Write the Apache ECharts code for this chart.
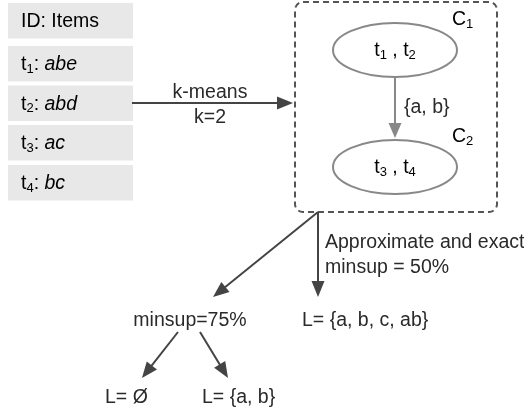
<!DOCTYPE html>
<html>
<head>
<meta charset="utf-8">
<script src="https://cdn.jsdelivr.net/npm/echarts@6/dist/echarts.min.js"></script>
<style>
html, body { margin: 0; padding: 0; background: #fff; }
#main { width: 524px; height: 413px; }
</style>
</head>
<body>
<div id="main"></div>
<script>
// transaction table
const rowIds = ['', '1', '2', '3', '4'];
const rowItems = ['Items', 'abe', 'abd', 'ac', 'bc'];
const rowTop = [3, 46, 85.5, 125, 165];

// clusters
const clusterIds = ['1', '2'];
const clusterMembers = [['1', '2'], ['3', '4']];
const clusterCenters = [[395, 50], [395, 167]];

// arrows (from -> to)
const arrowFrom = [[132, 103], [318, 212], [318, 212], [178, 332], [200, 332]];
const arrowTo = [[293, 103], [213, 297], [318, 297], [142, 378], [228, 378]];
const innerFrom = [[395, 77]];
const innerTo = [[395, 138]];

// free text
const labelText = ['k-means', 'k=2', '{a, b}', 'Approximate and exact', 'minsup = 50%',
    'minsup=75%', 'L= {a, b, c, ab}', 'L= Ø', 'L= {a, b}'];
const labelPos = [[210, 93], [210, 118], [404, 108], [325, 243], [325, 268],
    [190, 321], [302, 321], [105, 398], [202, 398]];
const labelAlign = ['center', 'center', 'left', 'left', 'left', 'center', 'left', 'left', 'left'];

const FONT = 'Liberation Sans';
const FS = 19.5;
const TXT = '#2a2a2a';
const rich = {
    n: { fontFamily: FONT, fontSize: FS, color: TXT, lineHeight: 22 },
    i: { fontFamily: FONT, fontSize: FS, color: TXT, lineHeight: 22, fontStyle: 'italic' },
    s: { fontFamily: FONT, fontSize: 13, color: TXT, lineHeight: 8, verticalAlign: 'bottom' }
};

function arrowItem(api, color, hl, hw) {
    const a = api.coord([api.value(0), api.value(1)]);
    const b = api.coord([api.value(2), api.value(3)]);
    const dx = b[0] - a[0], dy = b[1] - a[1];
    const len = Math.hypot(dx, dy), ux = dx / len, uy = dy / len;
    const base = [b[0] - ux * hl, b[1] - uy * hl];
    return {
        type: 'group',
        children: [
            { type: 'line', shape: { x1: a[0], y1: a[1], x2: base[0] + ux, y2: base[1] + uy },
              style: { stroke: color, lineWidth: 2 } },
            { type: 'polygon', shape: { points: [b, [base[0] - uy * hw, base[1] + ux * hw], [base[0] + uy * hw, base[1] - ux * hw]] },
              style: { fill: color } }
        ]
    };
}

const chart = echarts.init(document.getElementById('main'));
chart.setOption({
    animation: false,
    grid: { left: 0, right: 0, top: 0, bottom: 0 },
    xAxis: { type: 'value', min: 0, max: 524, show: false },
    yAxis: { type: 'value', min: 0, max: 413, inverse: true, show: false },
    series: [
        {
            // table rows
            type: 'custom',
            data: rowTop.map(y => [8, y]),
            renderItem(params, api) {
                const i = params.dataIndex;
                const p0 = api.coord([api.value(0), api.value(1)]);
                const p1 = api.coord([133, api.value(1) + 35.5]);
                const text = i === 0 ? '{n|ID: ' + rowItems[i] + '}'
                    : '{n|t}{s|' + rowIds[i] + '}{n|: }{i|' + rowItems[i] + '}';
                return {
                    type: 'group',
                    children: [
                        { type: 'rect', shape: { x: p0[0], y: p0[1], width: p1[0] - p0[0], height: p1[1] - p0[1] },
                          style: { fill: '#e8e8e8' } },
                        { type: 'text', x: p0[0] + 13, y: (p0[1] + p1[1]) / 2 + 1,
                          style: { text: text, rich: rich, verticalAlign: 'middle', align: 'left' } }
                    ]
                };
            }
        },
        {
            // dashed cluster frame
            type: 'custom',
            data: [[295, 2, 497, 212]],
            renderItem(params, api) {
                const p0 = api.coord([api.value(0), api.value(1)]);
                const p1 = api.coord([api.value(2), api.value(3)]);
                return {
                    type: 'rect',
                    shape: { x: p0[0], y: p0[1], width: p1[0] - p0[0], height: p1[1] - p0[1], r: 8 },
                    style: { fill: 'none', stroke: '#555', lineWidth: 2, lineDash: [6, 4] }
                };
            }
        },
        {
            // clusters
            type: 'custom',
            data: clusterCenters,
            renderItem(params, api) {
                const i = params.dataIndex;
                const c = api.coord([api.value(0), api.value(1)]);
                const m = clusterMembers[i];
                return {
                    type: 'group',
                    children: [
                        { type: 'ellipse', shape: { cx: c[0], cy: c[1], rx: 62, ry: 27 },
                          style: { fill: '#fff', stroke: '#888', lineWidth: 2 } },
                        { type: 'text', x: c[0], y: c[1] + 1,
                          style: { text: '{n|t}{s|' + m[0] + '}{n| , t}{s|' + m[1] + '}', rich: rich,
                                   align: 'center', verticalAlign: 'middle' } },
                        { type: 'text', x: c[0] + 57, y: c[1] - 30,
                          style: { text: '{n|C}{s|' + clusterIds[i] + '}', rich: rich,
                                   align: 'left', verticalAlign: 'middle' } }
                    ]
                };
            }
        },
        {
            type: 'custom',
            data: innerFrom.map((p, i) => [p[0], p[1], innerTo[i][0], innerTo[i][1]]),
            renderItem(params, api) { return arrowItem(api, '#888', 15, 6.5); }
        },
        {
            type: 'custom',
            data: arrowFrom.map((p, i) => [p[0], p[1], arrowTo[i][0], arrowTo[i][1]]),
            renderItem(params, api) { return arrowItem(api, '#444', 16, 6.5); }
        },
        {
            type: 'custom',
            data: labelPos,
            renderItem(params, api) {
                const i = params.dataIndex;
                const p = api.coord([api.value(0), api.value(1)]);
                return {
                    type: 'text', x: p[0], y: p[1],
                    style: { text: labelText[i], fontFamily: FONT, fontSize: FS, fill: TXT,
                             align: labelAlign[i], verticalAlign: 'middle' }
                };
            }
        }
    ]
});
</script>
</body>
</html>
